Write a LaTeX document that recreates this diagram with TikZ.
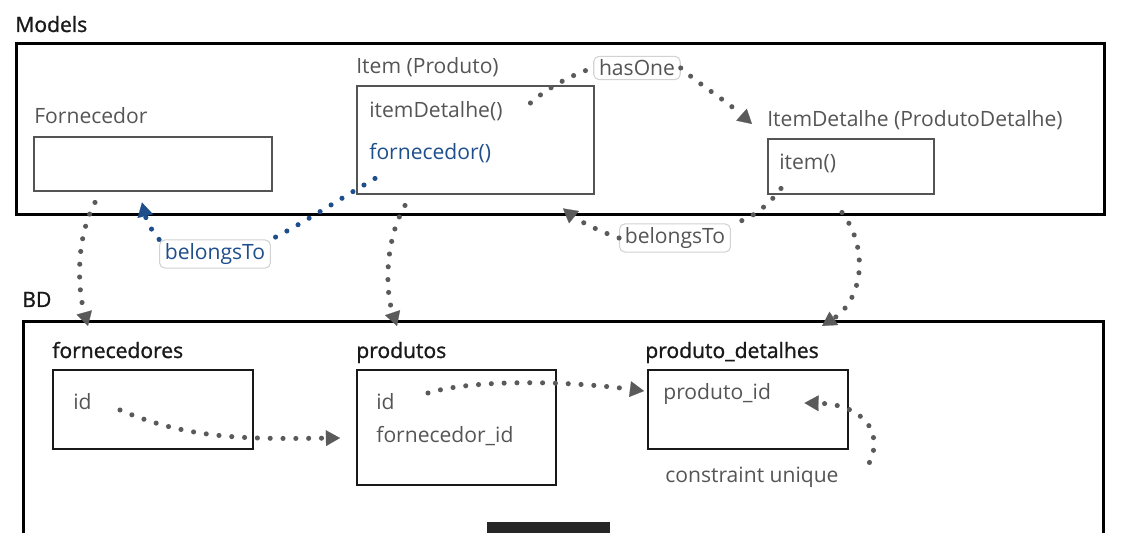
\documentclass[tikz,border=0pt]{standalone}
\usepackage{fontspec}
\setmainfont{Open Sans}
\newfontfamily\headfont[FakeBold=1.2]{Open Sans}
\usetikzlibrary{arrows.meta,calc,positioning}

\begin{document}
\begin{tikzpicture}[x=0.02cm, y=-0.02cm,
    every node/.style={font=\fontsize{12}{14}\selectfont},
    frame/.style={draw=black, line width=1.7pt, anchor=north west, inner sep=0pt},
    modelbox/.style={draw=boxGrey, line width=1.4pt, anchor=north west, inner sep=0pt},
    tablebox/.style={draw=black!90, line width=1.4pt, anchor=north west, inner sep=0pt},
    caption/.style={anchor=base west, inner sep=0pt, text=textGrey},
    heading/.style={anchor=base west, inner sep=0pt, text=black!90, font=\fontsize{12}{14}\headfont},
    relation/.style={draw=labelGrey, rounded corners=3pt, fill=white, line width=0.6pt, inner xsep=3pt, inner ysep=2pt, text=textGrey},
    dots/.style={draw=arrowGrey, line width=2.9pt, line cap=round, dash pattern=on 0pt off 7.3pt,
        -{Triangle[length=8pt, width=9pt, line width=0.1pt]}},
    ]
    % Define colours
    \definecolor{textGrey}{HTML}{555555}
    \definecolor{boxGrey}{HTML}{545454}
    \definecolor{arrowGrey}{HTML}{5A5A5A}
    \definecolor{labelGrey}{HTML}{D2D2D2}
    \definecolor{linkBlue}{HTML}{1F4E8C}

    % Define pixel unit
    \def\px{0.02cm}

    \useasboundingbox (0,0) rectangle (1134,533);

    % Draw frames
    \node[heading] (modelsT) at (15,32) {Models};
    \node[frame, minimum width={1088*\px}, minimum height={171*\px}] (models) at (15,42) {};
    \node[heading] (bdT) at (22,307) {BD};
    \node[frame, minimum width={1080*\px}, minimum height={260*\px}] (bd) at (22,320) {};

    % Draw models
    \node[caption] (fornT) at (34,124) {Fornecedor};
    \node[modelbox, minimum width={238*\px}, minimum height={54*\px}] (forn) at (33,136) {};
    \node[caption] (itemT) at (356,74) {Item (Produto)};
    \node[modelbox, minimum width={237*\px}, minimum height={108*\px}] (item) at (356,85) {};
    \node[caption] (itemA) at (369,118) {itemDetalhe()};
    \node[caption, text=linkBlue] (itemB) at (369,160) {fornecedor()};
    \node[caption] (idetT) at (767,127) {ItemDetalhe (ProdutoDetalhe)};
    \node[modelbox, minimum width={166*\px}, minimum height={55*\px}] (idet) at (767,138) {};
    \node[caption] (idetA) at (779,170) {item()};

    % Draw tables
    \node[heading] (fornTabT) at (52,358) {fornecedores};
    \node[tablebox, minimum width={200*\px}, minimum height={79*\px}] (fornTab) at (52,369) {};
    \node[caption] (fornTabA) at (73,410) {id};
    \node[heading] (prodTabT) at (356,358) {produtos};
    \node[tablebox, minimum width={199*\px}, minimum height={115*\px}] (prodTab) at (356,369) {};
    \node[caption] (prodTabA) at (376,410) {id};
    \node[caption] (prodTabB) at (376,443) {fornecedor\_id};
    \node[heading] (pdetTabT) at (645,358) {produto\_detalhes};
    \node[tablebox, minimum width={200*\px}, minimum height={79*\px}] (pdetTab) at (647,369) {};
    \node[caption] (pdetTabA) at (663,400) {produto\_id};
    \node[caption] (uniq) at (665,483) {constraint unique};

    % Draw relation labels
    \node[relation] (hasone) at (637,68) {hasOne};
    \node[relation, text=linkBlue] (bt1) at (215,254) {belongsTo};
    \node[relation] (bt2) at (675,238) {belongsTo};

    % Draw model to table arrows
    \draw[dots] ($(forn.south west)+(62,10)$) .. controls (75,240) and (78,290) .. ($(bd.north west)+(66,6)$);
    \draw[dots] ($(item.south west)+(49,10)$) .. controls (385,240) and (385,290) .. ($(bd.north west)+(375,6)$);
    \draw[dots] ($(idet.south west)+(75,17)$) .. controls (870,250) and (862,300) .. ($(bd.north west)+(800,6)$);

    % Draw relations between models
    \draw[dots] ($(item.north east)+(-65,18)$) .. controls (545,90) and (570,75) .. (hasone.west)
        (hasone.east) .. controls (700,85) and (725,100) .. ($(idetT.base west)+(-15,-3)$);
    \draw[dots] ($(idet.south west)+(14,-7)$) .. controls (765,210) and (745,222) .. (bt2.north east)
        (bt2.west) .. controls (595,230) and (575,218) .. ($(item.south west)+(207,13)$);
    \draw[dots, draw=linkBlue, -{Triangle[length=8pt, width=9pt, line width=0.1pt, fill=linkBlue]}]
        ($(item.south west)+(19,-17)$) .. controls (330,205) and (300,225) .. (bt1.north east)
        (bt1.north west) .. controls (150,230) and (145,215) .. ($(forn.south west)+(109,10)$);

    % Draw keys between tables
    \draw[dots] ($(fornTab.north west)+(68,41)$) .. controls (190,440) and (250,439) .. ($(prodTab.north west)+(-16,69)$);
    \draw[dots] ($(prodTab.north west)+(72,24)$) .. controls (470,380) and (560,380) .. ($(pdetTab.north west)+(-3,22)$);
    \draw[dots] ($(pdetTab.south east)+(20,12)$) .. controls (885,430) and (860,404) .. ($(pdetTab.north east)+(-45,34)$);

    % Draw tooltip
    \fill[fill=black!85] (487,522) rectangle (610,540);

\end{tikzpicture}
\end{document}
